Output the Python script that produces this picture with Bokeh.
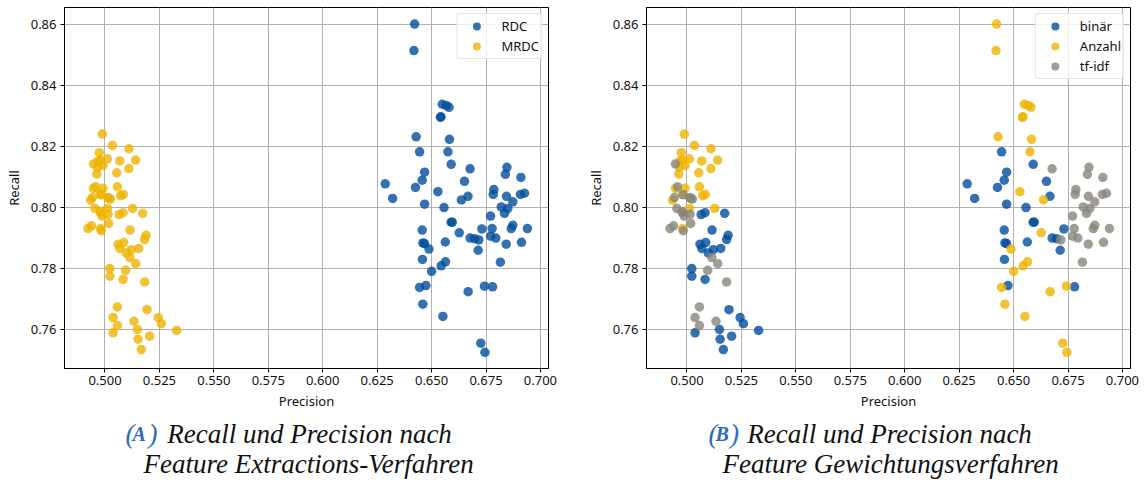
from bokeh.plotting import figure
from bokeh.layouts import row, column
from bokeh.models import ColumnDataSource, FixedTicker, PrintfTickFormatter, Range1d
from bokeh.core.properties import value
from bokeh.embed import file_html
from bokeh.resources import INLINE

# ---------------- data ----------------
method_labels = ["RDC", "MRDC"]
weighting_labels = ["binär", "Anzahl", "tf-idf"]
weighting_codes = {"B": "binär", "A": "Anzahl", "T": "tf-idf"}

rdc_precision = [0.6422, 0.6419, 0.6549, 0.6567, 0.6580, 0.6541, 0.6543, 0.6429, 0.6582, 0.6445,
                 0.6575, 0.6590, 0.6677, 0.6846, 0.6839, 0.6910, 0.6468, 0.6457, 0.6287, 0.6651,
                 0.6426, 0.6529, 0.6786, 0.6783, 0.6321, 0.6667, 0.6637, 0.6844, 0.6908, 0.6927,
                 0.6468, 0.6557, 0.6873, 0.6820, 0.6850, 0.6835, 0.6771, 0.6590, 0.6595, 0.6457,
                 0.6731, 0.6778, 0.6873, 0.6866, 0.6940, 0.6627, 0.6460, 0.6468, 0.6563, 0.6677,
                 0.6697, 0.6717, 0.6771, 0.6795, 0.6843, 0.6913, 0.6488, 0.6714, 0.6458, 0.6564,
                 0.6544, 0.6816, 0.6500, 0.6445, 0.6474, 0.6743, 0.6780, 0.6668, 0.6460, 0.6552,
                 0.6726, 0.6745]
rdc_recall = [0.8603, 0.8516, 0.8340, 0.8336, 0.8330, 0.8297, 0.8299, 0.8233, 0.8225, 0.8184,
              0.8184, 0.8143, 0.8128, 0.8133, 0.8110, 0.8100, 0.8117, 0.8091, 0.8079, 0.8087,
              0.8067, 0.8053, 0.8060, 0.8044, 0.8031, 0.8038, 0.8026, 0.8038, 0.8044, 0.8048,
              0.8012, 0.8001, 0.8020, 0.8003, 0.7998, 0.7982, 0.7973, 0.7953, 0.7953, 0.7927,
              0.7931, 0.7932, 0.7943, 0.7932, 0.7932, 0.7918, 0.7885, 0.7883, 0.7888, 0.7901,
              0.7899, 0.7895, 0.7907, 0.7901, 0.7881, 0.7887, 0.7865, 0.7861, 0.7831, 0.7823,
              0.7810, 0.7822, 0.7792, 0.7739, 0.7745, 0.7743, 0.7741, 0.7725, 0.7684, 0.7644,
              0.7556, 0.7526]
rdc_weighting = list("AAAAAAAAAB" "ABTTTTBBBB" "BATTBBATTT" "BBTTTTTBBB"
                     "BTTTTABBBB" "BTTTTTABBA" "ATAABABAAA" "AA")

mrdc_precision = [0.4988, 0.5034, 0.5110, 0.4974, 0.5011, 0.5141, 0.5068, 0.4968, 0.4980, 0.4947,
                  0.4991, 0.4965, 0.5110, 0.4962, 0.5054, 0.4957, 0.4947, 0.4991, 0.5057, 0.4942,
                  0.4934, 0.4983, 0.4979, 0.5014, 0.5025, 0.5072, 0.5084, 0.4954, 0.5011, 0.4980,
                  0.4987, 0.5014, 0.5065, 0.5083, 0.5127, 0.5173, 0.4922, 0.4938, 0.4980, 0.4983,
                  0.5017, 0.5115, 0.5189, 0.5182, 0.5060, 0.5086, 0.5068, 0.5121, 0.5155, 0.5098,
                  0.5114, 0.5141, 0.5022, 0.5022, 0.5095, 0.5083, 0.5182, 0.5057, 0.5193, 0.5037,
                  0.5244, 0.5259, 0.5133, 0.5057, 0.5149, 0.5329, 0.5037, 0.5205, 0.5152, 0.5167,
                  0.4978, 0.5016]
mrdc_recall = [0.8242, 0.8205, 0.8194, 0.8181, 0.8161, 0.8157, 0.8154, 0.8154, 0.8157, 0.8144,
               0.8139, 0.8133, 0.8129, 0.8111, 0.8115, 0.8069, 0.8064, 0.8064, 0.8069, 0.8034,
               0.8025, 0.8043, 0.8045, 0.8034, 0.8029, 0.8040, 0.8044, 0.7998, 0.7998, 0.7984,
               0.7973, 0.7979, 0.7978, 0.7984, 0.7998, 0.7982, 0.7932, 0.7941, 0.7932, 0.7925,
               0.7949, 0.7927, 0.7910, 0.7896, 0.7881, 0.7886, 0.7867, 0.7863, 0.7867, 0.7852,
               0.7837, 0.7817, 0.7801, 0.7776, 0.7795, 0.7765, 0.7757, 0.7675, 0.7666, 0.7640,
               0.7640, 0.7620, 0.7628, 0.7614, 0.7601, 0.7598, 0.7590, 0.7579, 0.7569, 0.7535,
               0.7987, 0.8031]
mrdc_weighting = list("AAAAAAAAAT" "AAAAATAAAT" "ATATTAATAT" "TTBBABTTAT"
                      "TBBBBBBBBB" "TTBBTBTTBT" "BBTTBBBBBB" "TT")

x_ticks = [0.500, 0.525, 0.550, 0.575, 0.600, 0.625, 0.650, 0.675, 0.700]
y_ticks = [0.76, 0.78, 0.80, 0.82, 0.84, 0.86]
x_label = "Precision"
y_label = "Recall"

caption_a = ["(", "A", ")", "Recall und Precision nach", "Feature Extractions-Verfahren"]
caption_b = ["(", "B", ")", "Recall und Precision nach", "Feature Gewichtungsverfahren"]

# ---------------- combine ----------------
precision = rdc_precision + mrdc_precision
recall = rdc_recall + mrdc_recall
method = [method_labels[0]] * len(rdc_precision) + [method_labels[1]] * len(mrdc_precision)
weighting = [weighting_codes[c] for c in rdc_weighting + mrdc_weighting]

BLUE = "#004e9c"
YELLOW = "#edb300"
GRAY = "#888679"
CAP_BLUE = "#2b6cb5"
FONT = "Noto Sans"

X_RANGE = (0.4814, 0.7037)
Y_RANGE = (0.74730, 0.86574)

BORDER_L = 64
FRAME_W = 484
TOP = 7
FRAME_H = 361
BOTTOM = 44
CAP_H = 70


def subset(keys, key):
    idx = [i for i, k in enumerate(keys) if k == key]
    return ColumnDataSource(dict(x=[precision[i] for i in idx],
                                 y=[recall[i] for i in idx]))


def make_plot(width, border_right, groups):
    p = figure(width=width, height=TOP + FRAME_H + BOTTOM,
               x_range=Range1d(*X_RANGE), y_range=Range1d(*Y_RANGE),
               toolbar_location=None, tools="", output_backend="svg",
               min_border_left=BORDER_L, min_border_right=border_right,
               min_border_top=TOP, min_border_bottom=BOTTOM,
               background_fill_color="white", border_fill_color="white")
    p.outline_line_color = "black"
    p.outline_line_width = 1
    p.grid.grid_line_color = "#b0b0b0"
    p.grid.grid_line_width = 1

    p.xaxis.ticker = FixedTicker(ticks=x_ticks)
    p.xaxis.formatter = PrintfTickFormatter(format="%.3f")
    p.yaxis.ticker = FixedTicker(ticks=y_ticks)
    p.yaxis.formatter = PrintfTickFormatter(format="%.2f")
    p.xaxis.axis_label = x_label
    p.yaxis.axis_label = y_label
    for ax in (p.xaxis[0], p.yaxis[0]):
        ax.axis_line_color = "black"
        ax.major_tick_line_color = "black"
        ax.major_tick_out = 4
        ax.major_tick_in = 0
        ax.minor_tick_out = 0
        ax.minor_tick_in = 0
        ax.major_label_text_font = FONT
        ax.major_label_text_font_size = "13px"
        ax.major_label_text_color = "#111111"
        ax.axis_label_text_font = FONT
        ax.axis_label_text_font_size = "13px"
        ax.axis_label_text_font_style = "normal"
        ax.axis_label_text_color = "#111111"
    p.xaxis.major_label_standoff = 3
    p.xaxis.axis_label_standoff = 4
    p.yaxis.major_label_standoff = 4
    p.yaxis.axis_label_standoff = 5

    for keys, key, color in groups:
        p.scatter(x="x", y="y", source=subset(keys, key), marker="circle", size=9.5,
                  fill_color=color, fill_alpha=0.8, line_color=None, legend_label=key)

    lg = p.legend[0]
    lg.location = "top_right"
    lg.margin = 6
    lg.padding = 2
    lg.spacing = -2
    lg.glyph_width = 34
    lg.glyph_height = 20
    lg.label_height = 20
    lg.label_standoff = 8
    lg.label_text_font = FONT
    lg.label_text_font_size = "13px"
    lg.label_text_color = "#111111"
    lg.border_line_color = "#cccccc"
    lg.border_line_width = 1
    lg.background_fill_alpha = 0.8
    try:
        lg.border_radius = 3
    except Exception:
        pass
    return p


def make_caption(width, border_right, frame_left, texts, x_paren, x_letter, x_close,
                 x_line1, x_line2):
    # x data units are page pixels: frame aligned with the plot above it
    c = figure(width=width, height=CAP_H,
               x_range=Range1d(frame_left, frame_left + FRAME_W), y_range=Range1d(0, CAP_H),
               toolbar_location=None, tools="", output_backend="svg",
               x_axis_type=None, y_axis_type=None,
               min_border_left=BORDER_L, min_border_right=border_right,
               min_border_top=0, min_border_bottom=0,
               background_fill_color="white", border_fill_color="white")
    c.outline_line_color = None
    c.grid.visible = False
    serif = value("Liberation Serif")
    y1, y2 = CAP_H - 21, CAP_H - 51
    c.text(x=[x_paren, x_close], y=[y1, y1], text=[texts[0], texts[2]],
           text_font=serif, text_font_style="italic", text_font_size="27px",
           text_color=CAP_BLUE, text_baseline="alphabetic", text_align="left")
    c.text(x=[x_letter], y=[y1], text=[texts[1]],
           text_font=serif, text_font_style="bold italic", text_font_size="20px",
           text_color=CAP_BLUE, text_baseline="alphabetic", text_align="left")
    c.text(x=[x_line1, x_line2], y=[y1, y2], text=[texts[3], texts[4]],
           text_font=serif, text_font_style="italic", text_font_size="27px",
           text_color="#111111", text_baseline="alphabetic", text_align="left")
    return c


LEFT_W, LEFT_BR = 582, 34
RIGHT_W, RIGHT_BR = 562, 14

p1 = make_plot(LEFT_W, LEFT_BR, [(method, method_labels[0], BLUE),
                                 (method, method_labels[1], YELLOW)])
p2 = make_plot(RIGHT_W, RIGHT_BR, [(weighting, weighting_labels[0], BLUE),
                                   (weighting, weighting_labels[1], YELLOW),
                                   (weighting, weighting_labels[2], GRAY)])

c1 = make_caption(LEFT_W, LEFT_BR, BORDER_L, caption_a, 125, 132, 148, 166.7, 143)
c2 = make_caption(RIGHT_W, RIGHT_BR, LEFT_W + BORDER_L, caption_b, 708, 715, 729.5, 746.7, 722)

layout = row(column(p1, c1), column(p2, c2))

open("out.html", "w").write(file_html(layout, INLINE))
